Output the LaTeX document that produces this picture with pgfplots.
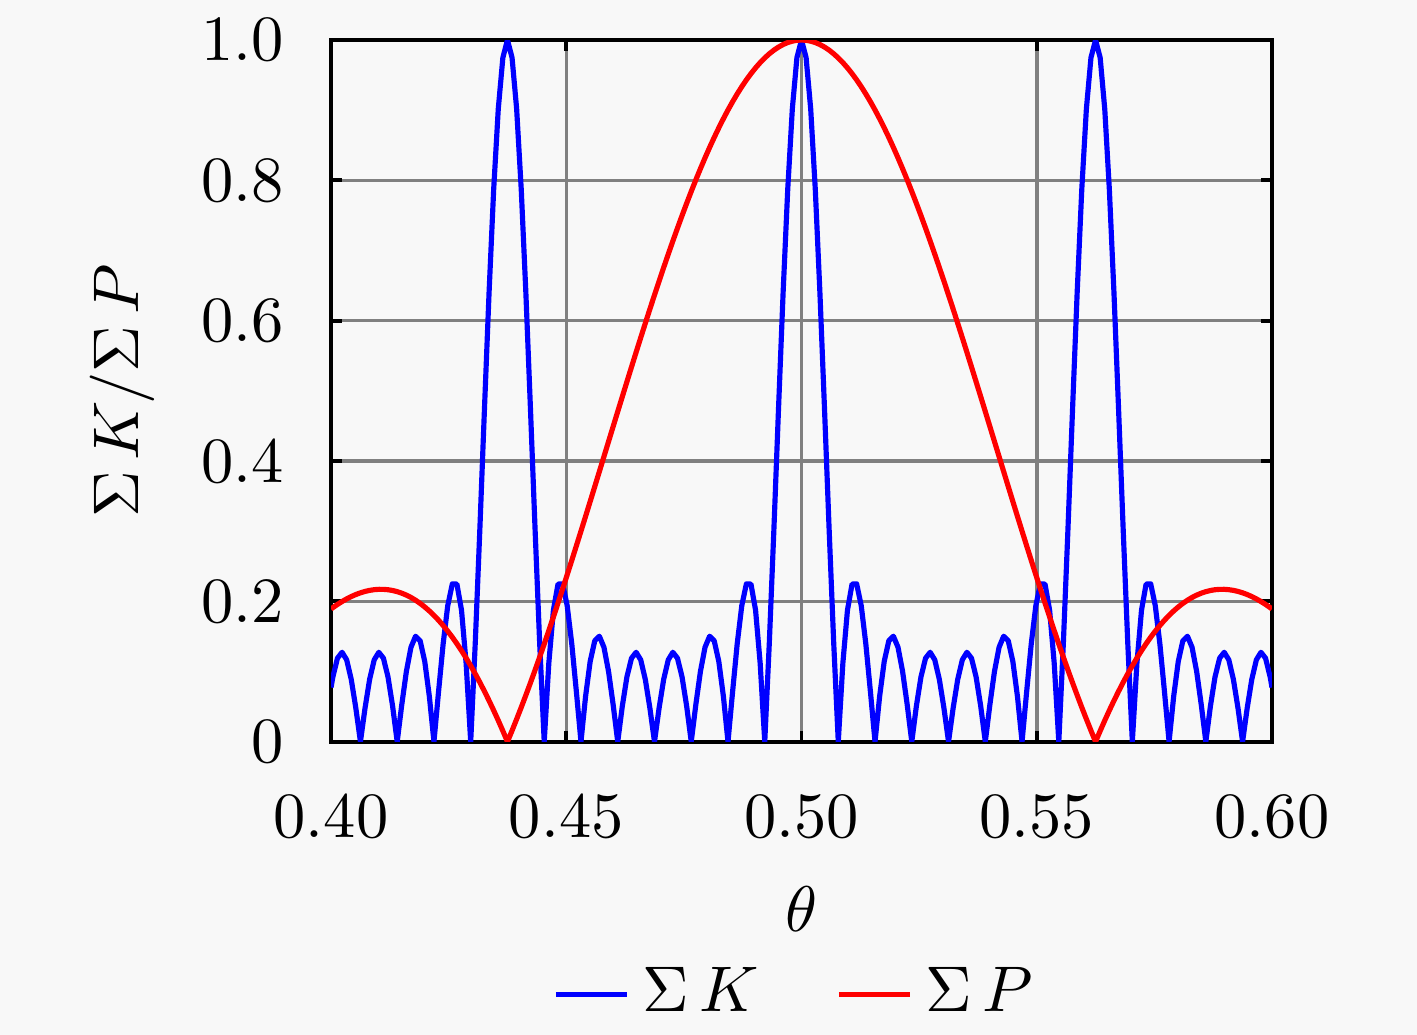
\documentclass[border=0pt]{standalone}
\usepackage{pgfplots}
\usepackage{pgfplotstable}
\pgfplotsset{compat=1.18}
\usetikzlibrary{backgrounds}
\definecolor{bg}{RGB}{248,248,248}
\pgfplotstableread{
x K P
0.400000 0.07725 0.18921
0.400391 0.09237 0.19112
0.401367 0.11905 0.19566
0.402344 0.12745 0.19980
0.403320 0.11675 0.20355
0.404297 0.08882 0.20688
0.405273 0.04789 0.20977
0.406250 0.00000 0.21221
0.407227 0.04789 0.21418
0.408203 0.08882 0.21568
0.409180 0.11675 0.21668
0.410156 0.12745 0.21718
0.411133 0.11905 0.21716
0.412109 0.09237 0.21661
0.413086 0.05081 0.21552
0.414063 0.00000 0.21388
0.415039 0.05292 0.21168
0.416016 0.10022 0.20891
0.416992 0.13464 0.20557
0.417969 0.15034 0.20165
0.418945 0.14378 0.19714
0.419922 0.11434 0.19204
0.420898 0.06456 0.18635
0.421875 0.00000 0.18006
0.422852 0.07123 0.17318
0.423828 0.13933 0.16569
0.424805 0.19386 0.15760
0.425781 0.22499 0.14892
0.426758 0.22463 0.13964
0.427734 0.18750 0.12977
0.428711 0.11188 0.11932
0.429688 0.00000 0.10828
0.430664 0.14199 0.09666
0.431641 0.30449 0.08448
0.432617 0.47529 0.07174
0.433594 0.64073 0.05845
0.434570 0.78706 0.04461
0.435547 0.90176 0.03025
0.436523 0.97488 0.01538
0.437500 1.00000 0.00000
0.438477 0.97488 0.01587
0.439453 0.90176 0.03221
0.440430 0.78706 0.04900
0.441406 0.64073 0.06624
0.442383 0.47529 0.08390
0.443359 0.30449 0.10196
0.444336 0.14199 0.12040
0.445313 0.00000 0.13921
0.446289 0.11188 0.15837
0.447266 0.18750 0.17784
0.448242 0.22463 0.19761
0.449219 0.22499 0.21765
0.450195 0.19386 0.23795
0.451172 0.13933 0.25848
0.452148 0.07123 0.27920
0.453125 0.00000 0.30011
0.454102 0.06456 0.32116
0.455078 0.11434 0.34234
0.456055 0.14378 0.36362
0.457031 0.15034 0.38497
0.458008 0.13464 0.40636
0.458984 0.10022 0.42777
0.459961 0.05292 0.44917
0.460938 0.00000 0.47053
0.461914 0.05081 0.49182
0.462891 0.09237 0.51302
0.463867 0.11905 0.53409
0.464844 0.12745 0.55501
0.465820 0.11675 0.57575
0.466797 0.08882 0.59629
0.467773 0.04789 0.61659
0.468750 0.00000 0.63662
0.469727 0.04789 0.65637
0.470703 0.08882 0.67579
0.471680 0.11675 0.69487
0.472656 0.12745 0.71359
0.473633 0.11905 0.73190
0.474609 0.09237 0.74979
0.475586 0.05081 0.76724
0.476563 0.00000 0.78422
0.477539 0.05292 0.80069
0.478516 0.10022 0.81665
0.479492 0.13464 0.83207
0.480469 0.15034 0.84693
0.481445 0.14378 0.86120
0.482422 0.11434 0.87487
0.483398 0.06456 0.88791
0.484375 0.00000 0.90032
0.485352 0.07123 0.91206
0.486328 0.13933 0.92312
0.487305 0.19386 0.93350
0.488281 0.22499 0.94316
0.489258 0.22463 0.95211
0.490234 0.18750 0.96032
0.491211 0.11188 0.96779
0.492188 0.00000 0.97449
0.493164 0.14199 0.98044
0.494141 0.30449 0.98561
0.495117 0.47529 0.98999
0.496094 0.64073 0.99358
0.497070 0.78706 0.99639
0.498047 0.90176 0.99839
0.499023 0.97488 0.99961
0.500000 1.00000 1.00000
0.500977 0.97488 0.99961
0.501953 0.90176 0.99839
0.502930 0.78706 0.99639
0.503906 0.64073 0.99358
0.504883 0.47529 0.98999
0.505859 0.30449 0.98561
0.506836 0.14199 0.98044
0.507813 0.00000 0.97449
0.508789 0.11188 0.96779
0.509766 0.18750 0.96032
0.510742 0.22463 0.95211
0.511719 0.22499 0.94316
0.512695 0.19386 0.93350
0.513672 0.13933 0.92312
0.514648 0.07123 0.91206
0.515625 0.00000 0.90032
0.516602 0.06456 0.88791
0.517578 0.11434 0.87487
0.518555 0.14378 0.86120
0.519531 0.15034 0.84693
0.520508 0.13464 0.83207
0.521484 0.10022 0.81665
0.522461 0.05292 0.80069
0.523438 0.00000 0.78422
0.524414 0.05081 0.76724
0.525391 0.09237 0.74979
0.526367 0.11905 0.73190
0.527344 0.12745 0.71359
0.528320 0.11675 0.69487
0.529297 0.08882 0.67579
0.530273 0.04789 0.65637
0.531250 0.00000 0.63662
0.532227 0.04789 0.61659
0.533203 0.08882 0.59629
0.534180 0.11675 0.57575
0.535156 0.12745 0.55501
0.536133 0.11905 0.53409
0.537109 0.09237 0.51302
0.538086 0.05081 0.49182
0.539063 0.00000 0.47053
0.540039 0.05292 0.44917
0.541016 0.10022 0.42777
0.541992 0.13464 0.40636
0.542969 0.15034 0.38497
0.543945 0.14378 0.36362
0.544922 0.11434 0.34234
0.545898 0.06456 0.32116
0.546875 0.00000 0.30011
0.547852 0.07123 0.27920
0.548828 0.13933 0.25848
0.549805 0.19386 0.23795
0.550781 0.22499 0.21765
0.551758 0.22463 0.19761
0.552734 0.18750 0.17784
0.553711 0.11188 0.15837
0.554688 0.00000 0.13921
0.555664 0.14199 0.12040
0.556641 0.30449 0.10196
0.557617 0.47529 0.08390
0.558594 0.64073 0.06624
0.559570 0.78706 0.04900
0.560547 0.90176 0.03221
0.561523 0.97488 0.01587
0.562500 1.00000 0.00000
0.563477 0.97488 0.01538
0.564453 0.90176 0.03025
0.565430 0.78706 0.04461
0.566406 0.64073 0.05845
0.567383 0.47529 0.07174
0.568359 0.30449 0.08448
0.569336 0.14199 0.09666
0.570313 0.00000 0.10828
0.571289 0.11188 0.11932
0.572266 0.18750 0.12977
0.573242 0.22463 0.13964
0.574219 0.22499 0.14892
0.575195 0.19386 0.15760
0.576172 0.13933 0.16569
0.577148 0.07123 0.17318
0.578125 0.00000 0.18006
0.579102 0.06456 0.18635
0.580078 0.11434 0.19204
0.581055 0.14378 0.19714
0.582031 0.15034 0.20165
0.583008 0.13464 0.20557
0.583984 0.10022 0.20891
0.584961 0.05292 0.21168
0.585938 0.00000 0.21388
0.586914 0.05081 0.21552
0.587891 0.09237 0.21661
0.588867 0.11905 0.21716
0.589844 0.12745 0.21718
0.590820 0.11675 0.21668
0.591797 0.08882 0.21568
0.592773 0.04789 0.21418
0.593750 0.00000 0.21221
0.594727 0.04789 0.20977
0.595703 0.08882 0.20688
0.596680 0.11675 0.20355
0.597656 0.12745 0.19980
0.598633 0.11905 0.19566
0.599609 0.09237 0.19112
0.600000 0.07725 0.18921
}\datatable
\begin{document}
\begin{tikzpicture}
\begin{axis}[
  scale only axis,
  width=145.9pt, height=108.8pt,
  xmin=0.4, xmax=0.6, ymin=0, ymax=1,
  xtick={0.4,0.45,0.5,0.55,0.6},
  xticklabels={0.40,0.45,0.50,0.55,0.60},
  ytick={0,0.2,0.4,0.6,0.8,1},
  yticklabels={0,0.2,0.4,0.6,0.8,1.0},
  xticklabel style={yshift=-4.6pt},
  yticklabel style={xshift=-3.8pt},
  grid=major,
  grid style={gray, line width=0.55pt},
  axis line style={line width=0.6pt},
  major tick style={black, line width=0.6pt},
  major tick length=1.7pt,
  xlabel={$\theta$},
  ylabel={$\Sigma\,K/\Sigma\,P$},
  xlabel style={at={(axis description cs:0.5,-0.239)}, anchor=center},
  ylabel style={at={(axis description cs:-0.222,0.5)}, anchor=center},
  legend style={at={(axis description cs:0.498,-0.36)}, anchor=center,
    draw=none, fill=none, legend columns=2,
    /tikz/every even column/.append style={column sep=10pt}},
  legend image code/.code={\draw[#1] (0pt,0pt) -- (11pt,0pt);},
]
\addplot[blue, line width=0.8pt, line join=round] table[x=x, y=K]{\datatable};
\addlegendentry{$\Sigma\,K$}
\addplot[red, line width=0.8pt, line join=round] table[x=x, y=P]{\datatable};
\addlegendentry{$\Sigma\,P$}
\coordinate (bl) at (axis description cs:-0.3518,-0.4174);
\coordinate (tr) at (axis description cs:1.1541,1.057);
\end{axis}
\pgfresetboundingbox
\useasboundingbox (bl) rectangle (tr);
\begin{scope}[on background layer]
\fill[bg] (bl) rectangle (tr);
\end{scope}
\end{tikzpicture}
\end{document}
